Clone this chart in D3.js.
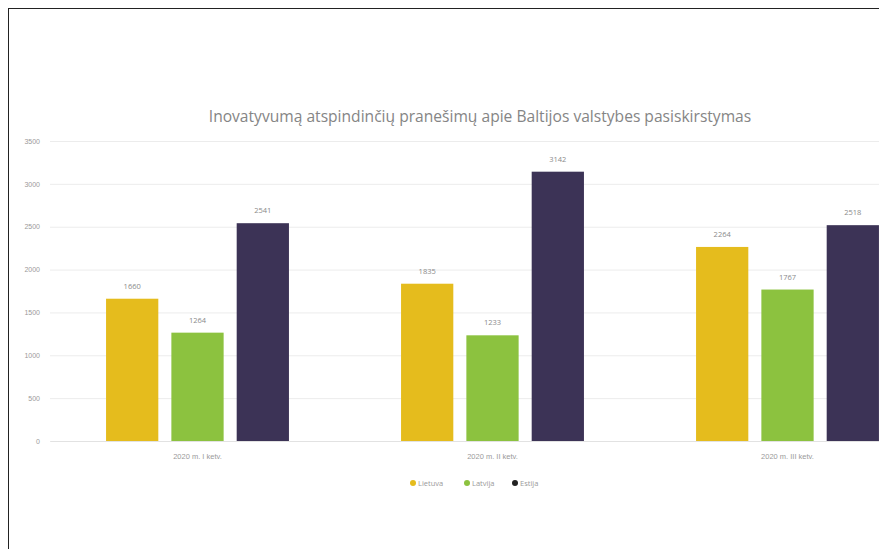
<!DOCTYPE html>
<html>
<head>
<meta charset="utf-8">
<script src="https://cdn.jsdelivr.net/npm/d3@7"></script>
<style>
  html, body { margin: 0; padding: 0; background: #fff; overflow: hidden; }
  #frame {
    position: absolute; left: 8px; top: 8px;
    width: 960px; height: 600px;
    border-top: 1px solid #222; border-left: 1px solid #222;
  }
  svg { position: absolute; left: 0; top: 0; font-family: "Open Sans", sans-serif; }
</style>
</head>
<body>
<div id="frame"></div>
<svg id="chart" width="960" height="549"></svg>
<script>
const title = 'Inovatyvumą atspindinčių pranešimų apie Baltijos valstybes pasiskirstymas';
const quarters = ['2020 m. I ketv.', '2020 m. II ketv.', '2020 m. III ketv.'];
const countries = ['Lietuva', 'Latvija', 'Estija'];
const lietuva = [1660, 1835, 2264];
const latvija = [1264, 1233, 1767];
const estija = [2541, 3142, 2518];
const yTicks = [0, 500, 1000, 1500, 2000, 2500, 3000, 3500];
const colors = ['#e5bc1d', '#8cc23f', '#3c3356'];

const series = [lietuva, latvija, estija];
const rows = quarters.map((q, i) => ({
  quarter: q,
  values: countries.map((c, j) => ({ country: c, value: series[j][i] }))
}));

const svg = d3.select('#chart');
const plotLeft = 50, plotRight = 935, plotTop = 141, plotBottom = 441;

const x0 = d3.scaleBand()
  .domain(quarters)
  .range([plotLeft, plotRight])
  .paddingInner(0.38)
  .paddingOuter(0.19);

const x1 = d3.scaleBand()
  .domain(countries)
  .range([0, x0.bandwidth()])
  .paddingInner(0.2);

const y = d3.scaleLinear()
  .domain([0, 3500])
  .range([plotBottom, plotTop]);

const color = d3.scaleOrdinal().domain(countries).range(colors);

// title
svg.append('text')
  .attr('x', 480)
  .attr('y', 122)
  .attr('text-anchor', 'middle')
  .attr('font-size', '15.6px')
  .attr('fill', '#858585')
  .text(title);

// y axis with gridlines
const yAxis = svg.append('g')
  .attr('transform', `translate(${plotLeft},0)`)
  .call(d3.axisLeft(y).tickValues(yTicks).tickFormat(d3.format('d'))
    .tickSize(-(plotRight - plotLeft)).tickPadding(10));
yAxis.select('.domain').remove();
yAxis.selectAll('.tick line').attr('stroke', '#ececec');
yAxis.selectAll('.tick text').attr('fill', '#9a9a9a').attr('font-size', '7px');

// x axis labels
const xAxis = svg.append('g')
  .attr('transform', `translate(0,${plotBottom})`)
  .call(d3.axisBottom(x0).tickSize(0).tickPadding(13));
xAxis.select('.domain').attr('stroke', '#e2e2e2');
xAxis.selectAll('.tick text').attr('fill', '#9a9a9a').attr('font-size', '7.5px');

// bars
const group = svg.append('g').selectAll('g')
  .data(rows)
  .enter()
  .append('g')
  .attr('transform', d => `translate(${x0(d.quarter)},0)`);

group.selectAll('rect')
  .data(d => d.values)
  .enter()
  .append('rect')
  .attr('x', d => x1(d.country))
  .attr('y', d => y(d.value))
  .attr('width', x1.bandwidth())
  .attr('height', d => y(0) - y(d.value))
  .attr('fill', d => color(d.country));

group.selectAll('text.val')
  .data(d => d.values)
  .enter()
  .append('text')
  .attr('class', 'val')
  .attr('x', d => x1(d.country) + x1.bandwidth() / 2)
  .attr('y', d => y(d.value) - 10)
  .attr('text-anchor', 'middle')
  .attr('font-size', '7.5px')
  .attr('fill', '#8a8a8a')
  .text(d => d.value);

// legend
const legendX = [413, 467, 515];
const legend = svg.append('g').selectAll('g')
  .data(countries)
  .enter()
  .append('g')
  .attr('transform', (d, i) => `translate(${legendX[i]},483)`);

legend.append('circle')
  .attr('r', 3)
  .attr('fill', (d, i) => i === 2 ? '#222' : color(d));

legend.append('text')
  .attr('x', 5)
  .attr('y', 2.5)
  .attr('font-size', '7.5px')
  .attr('fill', '#9a9a9a')
  .text(d => d);
</script>
</body>
</html>
